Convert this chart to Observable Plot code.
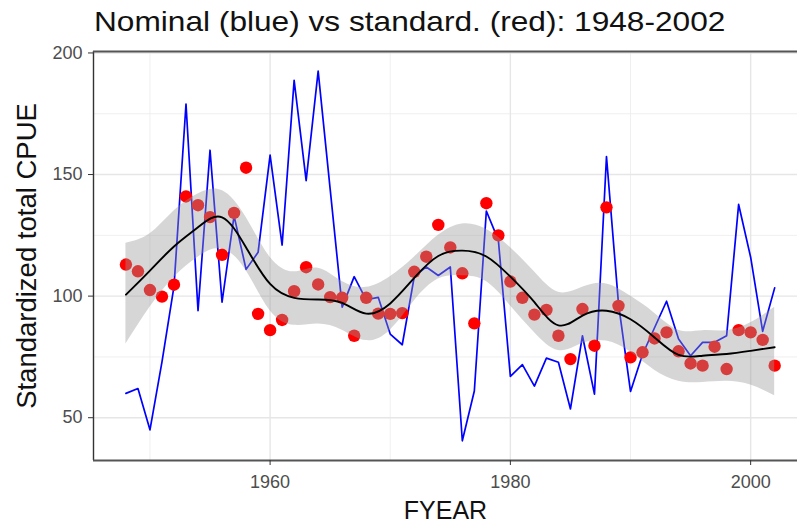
<!DOCTYPE html>
<html><head><meta charset="utf-8">
<script src="https://cdn.jsdelivr.net/npm/d3@7"></script>
<script src="https://cdn.jsdelivr.net/npm/@observablehq/plot@0.6"></script>
<style>
body{margin:0;background:#fff;font-family:"Liberation Sans",Arial,sans-serif;}
#title{height:36px;position:relative;overflow:visible;}
#title span{position:absolute;left:94px;top:6px;font-size:28px;color:#111;transform:scaleX(1.13);transform-origin:left top;white-space:nowrap;}
</style></head><body>
<div id="title"><span>Nominal (blue) vs standard. (red): 1948-2002</span></div>
<div id="chart"></div>
<script>
const years = [1948,1949,1950,1951,1952,1953,1954,1955,1956,1957,1958,1959,1960,1961,1962,1963,1964,1965,1966,1967,1968,1969,1970,1971,1972,1973,1974,1975,1976,1977,1978,1979,1980,1981,1982,1983,1984,1985,1986,1987,1988,1989,1990,1991,1992,1993,1994,1995,1996,1997,1998,1999,2000,2001,2002];
const nominal = [60,62,45,73,104,179,94,160,97.5,133,111,118,158,121,188.7,147.5,192.5,144,95.5,108,98.5,99.5,84.4,80,108,112,108.5,112,40.5,61,135,123,67,71.8,63,74.5,72.8,53.6,83.7,59.7,157.4,96.8,60.8,76,87,97.9,82.4,75.5,81,81,83.7,137.7,116,85.5,103.4];
const standardized = [113,110.2,102.5,99.8,104.7,141,137.4,132.5,117,134.2,152.8,92.7,86,90.2,102,111.9,104.8,99.6,99.3,83.7,99.3,92.8,92.7,93,110,116.2,129.3,120,109.4,88.8,138.2,125,106,99.3,92.4,94.3,83.7,74.1,94.7,79.6,136.5,96,74.8,76.9,82.6,85.1,77.3,72.3,71.4,79.2,70,86,85.1,82,71.4];

const smoothYears = [1948,1950,1952,1954,1956,1958,1960,1962,1964,1966,1968,1970,1972,1974,1976,1978,1980,1982,1984,1986,1988,1990,1992,1994,1996,1998,2000,2002];
const smoothFit   = [100.6,110.5,120.4,128.3,132.4,120,105,99.3,98.6,97.2,92.8,97,107.5,116.5,118.7,116.3,108,97.5,88,92,94,90.5,83,75.8,75.5,76.2,77.5,79];
const smoothUpper = [121.7,125.6,135,142,143.4,132.4,116,110,111.5,106,103.6,108,116,125,129.7,127.5,120,110,101.6,103.6,105,100,93,86,85.8,85.8,89,95.4];
const smoothLower = [80.3,95.4,107.7,116,119.4,110.5,94,88,88.5,86,81.7,86,98,107,108.4,106,96,85,77.6,80.5,81.5,77,69.5,65,64.5,65,63.5,59];

const yTicks = [50,100,150,200];
const yMinor = [75,125,175];
const xTicks = [1960,1980,2000];
const xMinor = [1950,1970,1990];
const xLabel = "FYEAR";
const yLabel = "Standardized total CPUE";

const series = years.map((yr,i)=>({year:yr, nominal:nominal[i], std:standardized[i]}));
const smooth = smoothYears.map((yr,i)=>({year:yr, fit:smoothFit[i], upper:smoothUpper[i], lower:smoothLower[i]}));

const xDom = [1945.3, 2003.9];
const yDom = [32.4, 200.6];

const chart = Plot.plot({
  width: 797,
  height: 489,
  marginTop: 15,
  marginBottom: 65,
  marginLeft: 93,
  marginRight: 0,
  style: {fontFamily: '"Liberation Sans", Arial, sans-serif', background: "#fff"},
  x: {domain: xDom, axis: null},
  y: {domain: yDom, axis: null},
  marks: [
    Plot.ruleY(yMinor, {stroke: "#EBEBEB", strokeWidth: 0.8}),
    Plot.ruleX(xMinor, {stroke: "#EBEBEB", strokeWidth: 0.8}),
    Plot.ruleY(yTicks, {stroke: "#E6E6E6", strokeWidth: 1.4}),
    Plot.ruleX(xTicks, {stroke: "#E6E6E6", strokeWidth: 1.4}),
    Plot.line(series, {x: "year", y: "nominal", stroke: "#0000FF", strokeWidth: 1.7}),
    Plot.dot(series, {x: "year", y: "std", r: 6.2, fill: "#FF0000", stroke: null}),
    Plot.areaY(smooth, {x: "year", y1: "lower", y2: "upper", fill: "#999999", fillOpacity: 0.4, curve: "natural"}),
    Plot.line(smooth, {x: "year", y: "fit", stroke: "#000", strokeWidth: 1.9, curve: "natural"}),
    Plot.ruleX([xDom[0]], {stroke: "#333", strokeWidth: 1.4}),
    Plot.ruleY([yDom[0], yDom[1]], {stroke: "#555", strokeWidth: 2}),
    Plot.axisY(yTicks, {tickSize: 5, tickFormat: () => "", color: "#333", label: null}),
    Plot.axisY(yTicks, {tickSize: 0, tickPadding: 11, fontSize: 18, color: "#4D4D4D", label: null}),
    Plot.axisX(xTicks, {tickSize: 5, tickFormat: () => "", color: "#333", label: null}),
    Plot.axisX(xTicks, {tickSize: 0, tickPadding: 15, fontSize: 18, color: "#4D4D4D", tickFormat: d => String(d), label: null}),
    Plot.text([yLabel], {frameAnchor: "left", dx: -66, rotate: -90, textAnchor: "middle", lineAnchor: "middle", fontSize: 27.5, fill: "#111", text: d => d}),
    Plot.text([xLabel], {frameAnchor: "bottom", dy: 50, textAnchor: "middle", lineAnchor: "middle", fontSize: 25, fill: "#111", text: d => d})
  ]
});
document.getElementById("chart").appendChild(chart);
</script>
</body></html>
